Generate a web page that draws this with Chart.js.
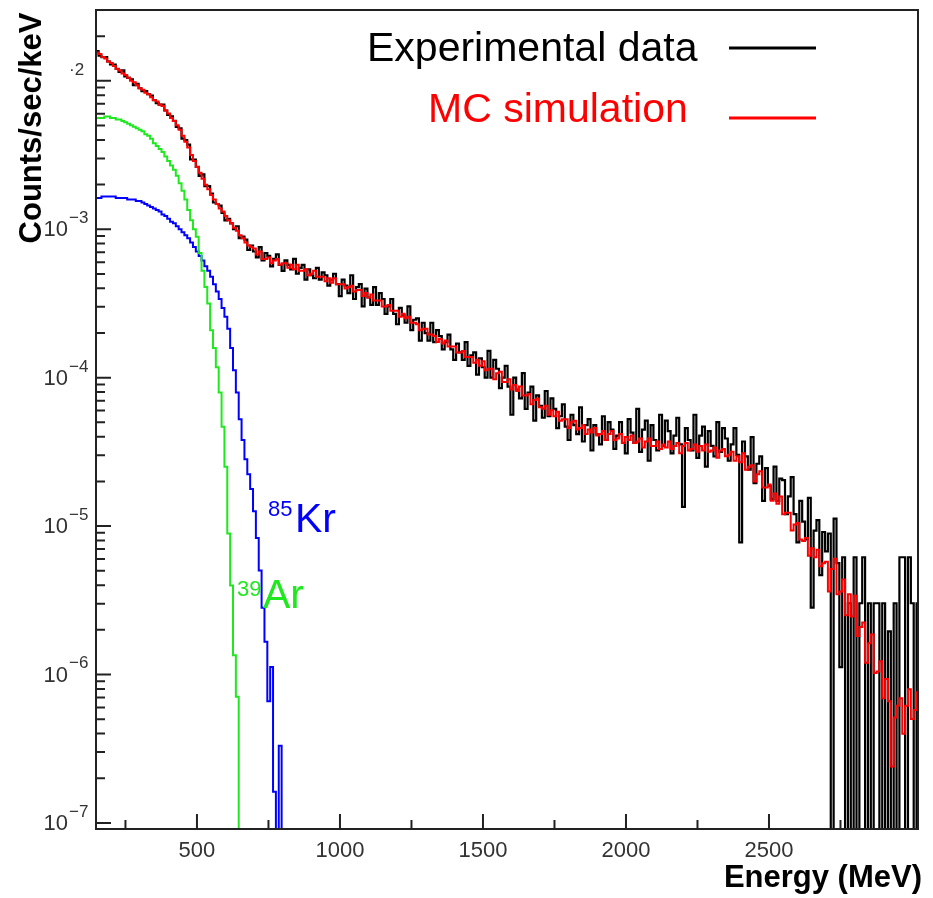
<!DOCTYPE html>
<html lang="en">
<head>
<meta charset="UTF-8">
<title>Energy spectrum - data vs MC</title>
<script src="https://cdn.jsdelivr.net/npm/chart.js@4"></script>
<style>
  html, body { margin: 0; padding: 0; background: #fff; }
  #wrap { width: 933px; height: 898px; position: relative; }
</style>
</head>
<body>
<div id="wrap"><canvas id="spectrum"></canvas></div>
<script>
// histogram binning (MeV): first bin edge and bin width
var binStart = 146, binWidth = 10;

// log10(counts/sec/keV) for each 10 MeV bin. null = empty bin
var dataLog = [
  -1.80, -1.83, -1.84, -1.84, -1.87, -1.89, -1.89, -1.92, -1.94, -1.93,
  -1.97, -1.98, -1.99, -2.03, -2.02, -2.05, -2.07, -2.07, -2.09, -2.10,
  -2.13, -2.15, -2.16, -2.16, -2.20, -2.23, -2.24, -2.27, -2.31, -2.32,
  -2.39, -2.40, -2.43, -2.53, -2.53, -2.58, -2.64, -2.63, -2.71, -2.71,
  -2.76, -2.82, -2.83, -2.84, -2.89, -2.94, -2.93, -2.96, -3.00, -2.98,
  -3.06, -3.05, -3.07, -3.14, -3.11, -3.15, -3.19, -3.12, -3.21, -3.16,
  -3.18, -3.25, -3.20, -3.17, -3.24, -3.28, -3.21, -3.24, -3.27, -3.20,
  -3.30, -3.26, -3.24, -3.34, -3.27, -3.31, -3.33, -3.26, -3.34, -3.29,
  -3.31, -3.38, -3.34, -3.30, -3.37, -3.45, -3.34, -3.38, -3.43, -3.31,
  -3.47, -3.39, -3.37, -3.52, -3.40, -3.46, -3.51, -3.39, -3.51, -3.43,
  -3.47, -3.57, -3.52, -3.47, -3.57, -3.64, -3.53, -3.58, -3.63, -3.52,
  -3.68, -3.61, -3.60, -3.75, -3.63, -3.70, -3.75, -3.63, -3.76, -3.68,
  -3.72, -3.81, -3.76, -3.71, -3.81, -3.88, -3.77, -3.83, -3.88, -3.76,
  -3.92, -3.85, -3.83, -3.98, -3.87, -3.93, -4.00, -3.82, -4.00, -3.88,
  -3.94, -4.07, -4.00, -3.92, -4.06, -4.25, -4.00, -4.08, -4.14, -3.97,
  -4.21, -4.10, -4.06, -4.29, -4.12, -4.19, -4.27, -4.09, -4.26, -4.14,
  -4.21, -4.34, -4.26, -4.18, -4.33, -4.42, -4.25, -4.32, -4.38, -4.20,
  -4.43, -4.32, -4.28, -4.49, -4.32, -4.38, -4.45, -4.26, -4.42, -4.30,
  -4.35, -4.48, -4.39, -4.30, -4.44, -4.51, -4.28, -4.37, -4.44, -4.21,
  -4.50, -4.35, -4.29, -4.56, -4.32, -4.42, -4.49, -4.25, -4.46, -4.29,
  -4.36, -4.51, -4.39, -4.27, -4.45, -4.87, -4.34, -4.42, -4.49, -4.25,
  -4.54, -4.39, -4.33, -4.60, -4.36, -4.46, -4.53, -4.30, -4.50, -4.34,
  -4.41, -4.56, -4.45, -4.34, -4.52, -5.11, -4.43, -4.53, -4.62, -4.40,
  -4.71, -4.58, -4.53, -4.83, -4.61, -4.73, -4.82, -4.60, -4.83, -4.68,
  -4.69, -4.92, -4.80, -4.67, -4.92, -5.11, -4.83, -4.97, -5.09, -4.81,
  -5.55, -5.03, -4.96, -5.33, -5.04, -5.17, -5.05, null, -4.95, -5.25,
  -5.95, -5.21, null, -5.52, null, -5.21, null, -5.52, -5.21, null,
  -5.52, null, -5.52, -5.52, null, -5.52, null, -5.71, null, -5.52,
  null, -5.21, -5.21, null, -5.21, -5.52, null, -5.52
];

var mcLog = [
  -1.81, -1.82, -1.84, -1.85, -1.87, -1.88, -1.90, -1.92, -1.93, -1.95,
  -1.96, -1.98, -2.00, -2.01, -2.03, -2.05, -2.06, -2.08, -2.09, -2.11,
  -2.13, -2.14, -2.16, -2.17, -2.20, -2.22, -2.25, -2.27, -2.30, -2.33,
  -2.37, -2.41, -2.45, -2.50, -2.54, -2.58, -2.62, -2.66, -2.70, -2.73,
  -2.77, -2.80, -2.83, -2.86, -2.88, -2.91, -2.94, -2.96, -2.99, -3.01,
  -3.04, -3.06, -3.09, -3.11, -3.12, -3.13, -3.17, -3.15, -3.20, -3.20,
  -3.19, -3.23, -3.21, -3.20, -3.24, -3.23, -3.23, -3.26, -3.24, -3.27,
  -3.24, -3.28, -3.28, -3.27, -3.31, -3.30, -3.28, -3.32, -3.32, -3.32,
  -3.35, -3.33, -3.36, -3.33, -3.37, -3.37, -3.37, -3.40, -3.39, -3.38,
  -3.42, -3.41, -3.41, -3.45, -3.43, -3.46, -3.44, -3.48, -3.48, -3.48,
  -3.52, -3.52, -3.51, -3.55, -3.55, -3.55, -3.59, -3.57, -3.60, -3.59,
  -3.63, -3.63, -3.64, -3.68, -3.67, -3.67, -3.71, -3.71, -3.72, -3.76,
  -3.74, -3.77, -3.75, -3.79, -3.79, -3.79, -3.83, -3.83, -3.82, -3.86,
  -3.86, -3.86, -3.90, -3.88, -3.92, -3.89, -3.95, -3.94, -3.94, -4.01,
  -3.97, -3.96, -4.03, -4.03, -4.01, -4.08, -4.05, -4.09, -4.06, -4.12,
  -4.12, -4.11, -4.18, -4.15, -4.14, -4.20, -4.21, -4.19, -4.25, -4.22,
  -4.26, -4.23, -4.29, -4.28, -4.28, -4.34, -4.30, -4.29, -4.35, -4.34,
  -4.32, -4.38, -4.35, -4.37, -4.34, -4.39, -4.38, -4.36, -4.42, -4.38,
  -4.36, -4.42, -4.41, -4.38, -4.44, -4.40, -4.42, -4.39, -4.44, -4.43,
  -4.41, -4.47, -4.43, -4.41, -4.46, -4.46, -4.43, -4.48, -4.45, -4.47,
  -4.43, -4.48, -4.46, -4.44, -4.51, -4.46, -4.44, -4.49, -4.48, -4.45,
  -4.50, -4.46, -4.49, -4.45, -4.50, -4.49, -4.47, -4.54, -4.49, -4.48,
  -4.53, -4.52, -4.50, -4.56, -4.53, -4.57, -4.51, -4.62, -4.60, -4.59,
  -4.70, -4.65, -4.63, -4.74, -4.74, -4.72, -4.83, -4.78, -4.85, -4.80,
  -4.92, -4.91, -4.91, -5.03, -4.99, -4.98, -5.09, -5.10, -5.08, -5.20,
  -5.15, -5.21, -5.16, -5.27, -5.25, -5.24, -5.44, -5.29, -5.22, -5.46,
  -5.44, -5.36, -5.60, -5.46, -5.61, -5.47, -5.74, -5.68, -5.65, -5.92,
  -5.79, -5.73, -5.99, -5.98, -5.91, -6.16, -6.03, -6.18, -6.62, -6.29,
  -6.21, -6.16, -6.40, -6.21, -6.10, -6.30, -6.24, -6.12
];

var arLog = [
  -2.25, -2.25, -2.25, -2.24, -2.24, -2.25, -2.25, -2.26, -2.26, -2.27,
  -2.28, -2.29, -2.30, -2.31, -2.32, -2.33, -2.34, -2.36, -2.37, -2.39,
  -2.42, -2.44, -2.46, -2.48, -2.51, -2.54, -2.57, -2.60, -2.64, -2.69,
  -2.74, -2.80, -2.87, -2.94, -3.00, -3.05, -3.16, -3.28, -3.39, -3.50,
  -3.68, -3.80, -3.93, -4.10, -4.33, -4.60, -5.05, -5.40, -5.87, -6.15,
  null
];

var krLog = [
  -2.79, -2.79, -2.78, -2.78, -2.78, -2.78, -2.78, -2.79, -2.79, -2.79,
  -2.79, -2.80, -2.80, -2.80, -2.81, -2.81, -2.82, -2.83, -2.84, -2.85,
  -2.86, -2.87, -2.88, -2.90, -2.91, -2.93, -2.95, -2.96, -2.98, -3.00,
  -3.02, -3.04, -3.06, -3.09, -3.12, -3.15, -3.18, -3.21, -3.25, -3.28,
  -3.32, -3.37, -3.42, -3.47, -3.53, -3.59, -3.67, -3.80, -3.95, -4.10,
  -4.28, -4.42, -4.55, -4.65, -4.75, -4.90, -5.08, -5.30, -5.55, -5.78,
  -6.18, -5.95, -6.79, null, -6.48, null
];

var xMajorTicks = [500, 1000, 1500, 2000, 2500];
var xMinorTicks = [250, 750, 1250, 1750, 2250, 2750];
var yDecades = [-7, -6, -5, -4, -3, -2];
var yMinorSteps = [2, 3, 4, 5, 6, 7, 8, 9];
var yLabelBase = ['10', '10', '10', '10', '10', ''];
var yLabelExp = ['\u22127', '\u22126', '\u22125', '\u22124', '\u22123', '\u00b72'];

var FONT = '"Liberation Sans", Arial, Helvetica, sans-serif';

// turn a per-bin list into step points (left edges + closing right edge)
function toHist(logs, start, width) {
  var pts = [];
  for (var i = 0; i < logs.length; i++) {
    var v = logs[i] === null ? 1e-9 : Math.pow(10, logs[i]); // empty bin falls off the log axis
    pts.push({x: start + i * width, y: v});
  }
  pts.push({x: start + logs.length * width, y: pts[pts.length - 1].y});
  return pts;
}

var decorations = {
  id: 'decorations',
  afterDraw: function (chart) {
    var ctx = chart.ctx, area = chart.chartArea;
    var xs = chart.scales.x, ys = chart.scales.y;
    ctx.save();

    // frame
    ctx.strokeStyle = '#222';
    ctx.lineWidth = 2;
    ctx.strokeRect(area.left, area.top, area.right - area.left, area.bottom - area.top);

    // tick marks (inside the frame)
    ctx.beginPath();
    yDecades.forEach(function (d) {
      [1].concat(yMinorSteps).forEach(function (m) {
        var v = m * Math.pow(10, d);
        if (v < ys.min || v > ys.max) return;
        var py = ys.getPixelForValue(v);
        ctx.moveTo(area.left, py);
        ctx.lineTo(area.left + (m === 1 ? 15 : 9), py);
      });
    });
    xMajorTicks.forEach(function (t) {
      var px = xs.getPixelForValue(t);
      ctx.moveTo(px, area.bottom);
      ctx.lineTo(px, area.bottom - 15);
    });
    xMinorTicks.forEach(function (t) {
      var px = xs.getPixelForValue(t);
      ctx.moveTo(px, area.bottom);
      ctx.lineTo(px, area.bottom - 9);
    });
    ctx.stroke();

    // x tick labels
    ctx.fillStyle = '#333';
    ctx.font = '22px ' + FONT;
    ctx.textAlign = 'center';
    ctx.textBaseline = 'alphabetic';
    xMajorTicks.forEach(function (t) {
      ctx.fillText(String(t), xs.getPixelForValue(t), area.bottom + 28);
    });

    // y tick labels: 10 with a raised exponent
    yDecades.forEach(function (d, i) {
      var py = ys.getPixelForValue(Math.pow(10, d));
      ctx.font = '22px ' + FONT;
      ctx.textAlign = 'right';
      ctx.textBaseline = 'middle';
      ctx.fillText(yLabelBase[i], area.left - 28, py + 1);
      ctx.font = '17px ' + FONT;
      ctx.textAlign = 'left';
      ctx.textBaseline = 'alphabetic';
      ctx.fillText(yLabelExp[i], area.left - 27, py - 6);
    });

    // axis titles
    ctx.fillStyle = '#000';
    ctx.font = 'bold 31px ' + FONT;
    ctx.textAlign = 'right';
    ctx.textBaseline = 'alphabetic';
    ctx.fillText('Energy (MeV)', 922, 887);

    ctx.save();
    ctx.translate(41, 128);
    ctx.rotate(-Math.PI / 2);
    ctx.textAlign = 'center';
    ctx.fillText('Counts/sec/keV', 0, 0);
    ctx.restore();

    // legend
    ctx.font = '41px ' + FONT;
    ctx.textAlign = 'left';
    ctx.fillStyle = '#000';
    ctx.fillText('Experimental data', 367, 61);
    ctx.fillStyle = '#ff0000';
    ctx.fillText('MC simulation', 428, 122);
    ctx.lineWidth = 3;
    ctx.strokeStyle = '#000';
    ctx.beginPath(); ctx.moveTo(729, 48); ctx.lineTo(816, 48); ctx.stroke();
    ctx.strokeStyle = '#ff0000';
    ctx.beginPath(); ctx.moveTo(729, 118); ctx.lineTo(816, 118); ctx.stroke();

    // isotope labels
    ctx.fillStyle = '#0000ff';
    ctx.font = '22px ' + FONT;
    ctx.fillText('85', 268, 516);
    ctx.font = '41px ' + FONT;
    ctx.fillText('Kr', 295, 532);
    ctx.fillStyle = '#1ee81e';
    ctx.font = '22px ' + FONT;
    ctx.fillText('39', 237, 596);
    ctx.font = '41px ' + FONT;
    ctx.fillText('Ar', 263, 608);

    ctx.restore();
  }
};

new Chart(document.getElementById('spectrum'), {
  type: 'line',
  data: {
    datasets: [
      {label: 'MC simulation', data: toHist(mcLog, binStart, binWidth),
       borderColor: '#ff0000', borderWidth: 2, stepped: true, order: 0},
      {label: 'Experimental data', data: toHist(dataLog, binStart, binWidth),
       borderColor: '#000000', borderWidth: 2.2, stepped: true, order: 1},
      {label: '39Ar', data: toHist(arLog, binStart, binWidth),
       borderColor: '#1ee81e', borderWidth: 2, stepped: true, order: 2},
      {label: '85Kr', data: toHist(krLog, binStart, binWidth),
       borderColor: '#0000ff', borderWidth: 2, stepped: true, order: 3}
    ]
  },
  options: {
    responsive: true,
    maintainAspectRatio: false,
    animation: false,
    layout: {padding: {left: 96, top: 10, right: 15, bottom: 69}},
    elements: {point: {radius: 0}, line: {tension: 0, borderJoinStyle: 'miter'}},
    plugins: {legend: {display: false}, tooltip: {enabled: false}},
    scales: {
      x: {type: 'linear', min: 147, max: 3021, display: false},
      y: {type: 'logarithmic', min: 9.1e-8, max: 0.030, display: false}
    }
  },
  plugins: [decorations]
});
</script>
</body>
</html>
